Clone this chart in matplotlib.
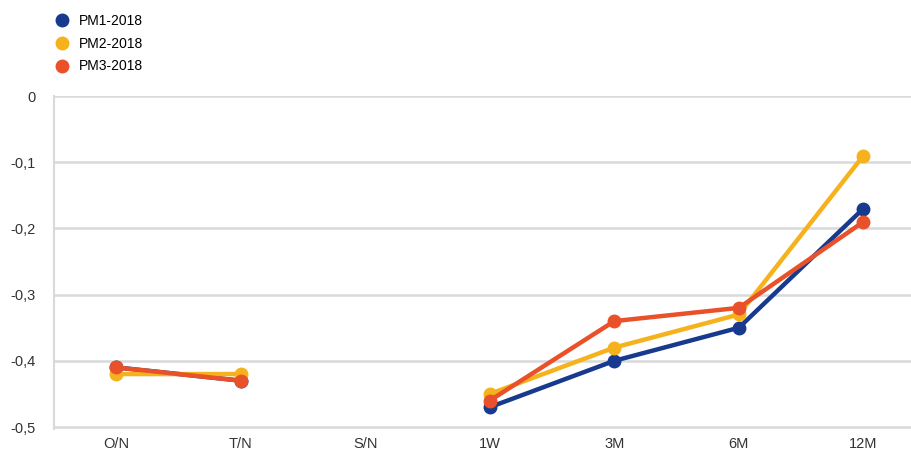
import numpy as np
import matplotlib.pyplot as plt
from matplotlib.lines import Line2D

plt.rcParams['font.family'] = ['Liberation Sans', 'DejaVu Sans']

categories = ['O/N', 'T/N', 'S/N', '1W', '3M', '6M', '12M']
pm1_2018 = [-0.41, -0.43, np.nan, -0.47, -0.40, -0.35, -0.17]
pm2_2018 = [-0.42, -0.42, np.nan, -0.45, -0.38, -0.33, -0.09]
pm3_2018 = [-0.41, -0.43, np.nan, -0.46, -0.34, -0.32, -0.19]
series_names = ['PM1-2018', 'PM2-2018', 'PM3-2018']
colors = ['#173a8e', '#f6b21c', '#e9512a']

fig = plt.figure(figsize=(9.12, 4.54), dpi=100)
ax = fig.add_axes([54 / 912, 1 - 429 / 454, 1 - 54 / 912, (429 - 96) / 454])

x = np.arange(len(categories))
for y, c in zip([pm1_2018, pm2_2018, pm3_2018], colors):
    ax.plot(x, y, color=c, lw=3.2, marker='o', ms=9, zorder=3)

ax.set_xlim(-0.5, 6.39)
ax.set_ylim(-0.5 - 0.5 * 2 / 332, 0)
ax.set_yticks([0, -0.1, -0.2, -0.3, -0.4, -0.5])
ax.set_yticklabels(['0', '-0,1', '-0,2', '-0,3', '-0,4', '-0,5'])
ax.set_xticks(x)
ax.set_xticklabels(categories)
ax.grid(axis='y', color='#d9d9d9', lw=1.8)
ax.set_axisbelow(True)
for s in ax.spines.values():
    s.set_visible(False)
ax.spines['left'].set_visible(True)
ax.spines['left'].set_color('#d9d9d9')
ax.spines['left'].set_linewidth(1.5)
ax.tick_params(length=0, labelsize=10.5, labelcolor='#333333')
ax.tick_params(axis='y', pad=13)
ax.tick_params(axis='x', pad=6)

handles = [Line2D([], [], ls='none', marker='o', ms=9, color=c) for c in colors]
fig.legend(handles, series_names, loc='upper left', bbox_to_anchor=(0.048, 0.99),
           frameon=False, fontsize=10, handletextpad=0.6, labelspacing=0.62,
           handlelength=1.2, borderaxespad=0.3)

fig.savefig('out.png', dpi=100)
